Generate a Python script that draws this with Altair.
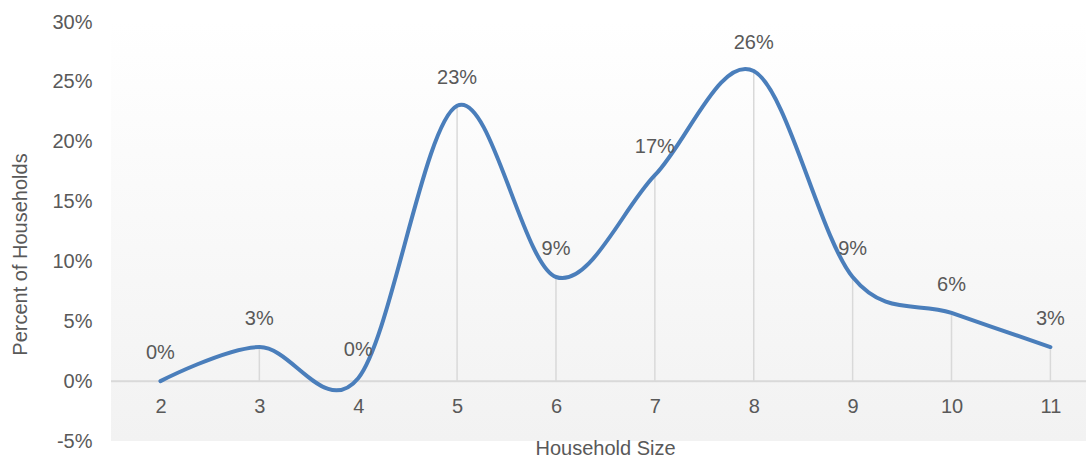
import altair as alt
import pandas as pd

# Household size categories and share of households (fractions)
sizes = [2, 3, 4, 5, 6, 7, 8, 9, 10, 11]
shares = [0.0, 0.0285, 0.0025, 0.23, 0.087, 0.172, 0.259, 0.087, 0.057, 0.0285]

df = pd.DataFrame({"size": sizes, "share": shares})

W, H = 975, 419
FONT = "Liberation Sans"
GREY_TEXT = "#595959"
LINE_BLUE = "#4a7ebb"

x_scale = alt.Scale(domain=[1.5, 11.36], nice=False, zero=False)
y_scale = alt.Scale(domain=[-0.05, 0.30], nice=False)

x_axis = alt.Axis(
    values=sizes,
    format="d",
    title="Household Size",
    domain=False,
    ticks=False,
    grid=False,
    offset=-60.8,
    labelPadding=16.5,
    labelBaseline="top",
    titleX=494,
    titleY=74,
    titleBaseline="alphabetic",
    zindex=1,
)
y_axis = alt.Axis(
    values=[-0.05, 0, 0.05, 0.10, 0.15, 0.20, 0.25, 0.30],
    labelExpr="round(datum.value * 100) + '%'",
    title="Percent of Households",
    domain=False,
    ticks=False,
    grid=False,
    labelPadding=19,
    titleX=-91,
    titleY=232,
    titleBaseline="middle",
    titleAlign="center",
)

# plot-area background: white at the top fading to light grey
background = alt.Chart(alt.Data(values=[{}])).mark_rect(
    color=alt.LinearGradient(
        gradient="linear",
        stops=[
            alt.GradientStop(color="#ffffff", offset=0),
            alt.GradientStop(color="#f2f2f2", offset=1),
        ],
        x1=0, x2=0, y1=0, y2=1,
    )
).encode(x=alt.value(0), x2=alt.value(W), y=alt.value(0), y2=alt.value(H))

zero_line = alt.Chart(alt.Data(values=[{}])).mark_rule(
    color="#d9d9d9", strokeWidth=2
).encode(y=alt.datum(0, scale=y_scale, axis=y_axis))

base = alt.Chart(df)

drop_lines = base.mark_rule(color="#d9d9d9", strokeWidth=1.5).encode(
    x=alt.X("size:Q", scale=x_scale, axis=x_axis),
    y=alt.Y("share:Q", scale=y_scale, axis=y_axis),
    y2=alt.datum(0),
)

curve = base.mark_line(
    color=LINE_BLUE, strokeWidth=4, interpolate="cardinal", tension=0,
    strokeCap="round", strokeJoin="round",
).encode(
    x=alt.X("size:Q", scale=x_scale, axis=x_axis),
    y=alt.Y("share:Q", scale=y_scale, axis=y_axis),
)

labels = base.transform_calculate(
    label="format(datum.share, '.0%')"
).mark_text(
    font=FONT, fontSize=20, color=GREY_TEXT, dy=-22, baseline="alphabetic", align="center"
).encode(
    x=alt.X("size:Q", scale=x_scale, axis=x_axis),
    y=alt.Y("share:Q", scale=y_scale, axis=y_axis),
    text="label:N",
)

chart = alt.layer(background, zero_line, drop_lines, curve, labels).properties(
    width=W,
    height=H,
    background="white",
    autosize=alt.AutoSizeParams(type="none"),
    padding={"left": 111, "top": 22, "right": 0, "bottom": 16},
).configure_view(
    stroke=None
).configure_axis(
    labelFont=FONT,
    labelFontSize=20,
    labelColor=GREY_TEXT,
    titleFont=FONT,
    titleFontSize=20,
    titleColor=GREY_TEXT,
    titleFontWeight="normal",
)

chart.save("out.html", embed_options={"renderer": "svg", "actions": False})
